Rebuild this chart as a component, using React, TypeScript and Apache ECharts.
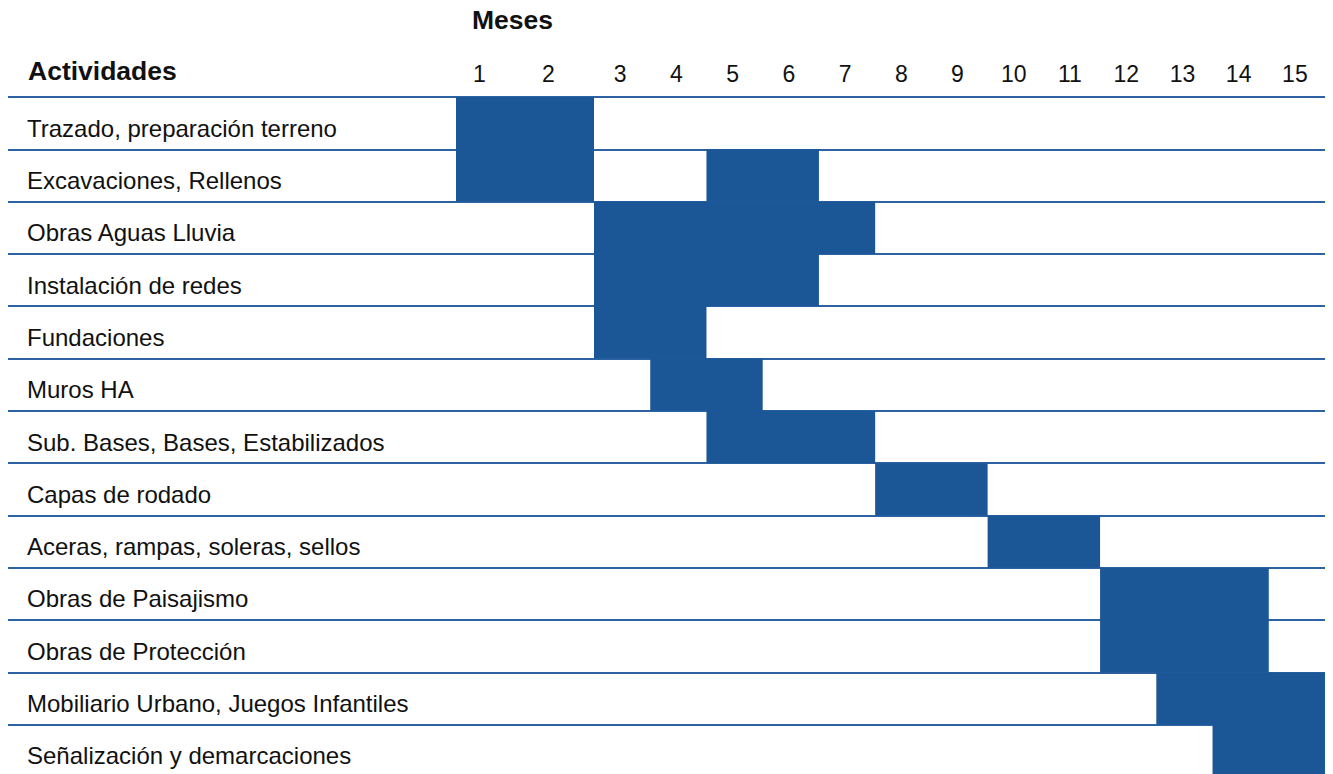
import React, { useEffect, useRef } from "react";
import * as echarts from "echarts";

const activities = [
  "Trazado, preparación terreno",
  "Excavaciones, Rellenos",
  "Obras Aguas Lluvia",
  "Instalación de redes",
  "Fundaciones",
  "Muros HA",
  "Sub. Bases, Bases, Estabilizados",
  "Capas de rodado",
  "Aceras, rampas, soleras, sellos",
  "Obras de Paisajismo",
  "Obras de Protección",
  "Mobiliario Urbano, Juegos Infantiles",
  "Señalización y demarcaciones",
];

const monthsEarly = ["1", "2"];
const monthsLate = ["3", "4", "5", "6", "7", "8", "9", "10", "11", "12", "13", "14", "15"];

// [first month, last month] per activity (one or more segments)
const schedule: number[][][] = [
  [[1, 2]],
  [[1, 2], [5, 6]],
  [[3, 7]],
  [[3, 6]],
  [[3, 4]],
  [[4, 5]],
  [[5, 7]],
  [[8, 9]],
  [[10, 11]],
  [[12, 14]],
  [[12, 14]],
  [[13, 15]],
  [[14, 15]],
];

const BAR = "#1b5697";
const LINE = "#2e63a3";
const FONT = "'Liberation Sans', Arial, sans-serif";

export default function App() {
  const ref = useRef<HTMLDivElement>(null);

  useEffect(() => {
    if (!ref.current) return;
    const chart = echarts.init(ref.current, undefined, { renderer: "svg" });

    const earlyData: number[][] = [];
    const lateData: number[][] = [];
    schedule.forEach((segs, row) => {
      segs.forEach(([s, e]) => {
        if (e <= monthsEarly.length) earlyData.push([row, s - 1, e - 1]);
        else lateData.push([row, s - 1 - monthsEarly.length, e - 1 - monthsEarly.length]);
      });
    });

    const renderItem = (params: any, api: any) => {
      const row = api.value(0);
      const s = api.value(1);
      const e = api.value(2);
      const p1 = api.coord([s, row]);
      const p2 = api.coord([e, row]);
      const size = api.size([1, 1]);
      return {
        type: "rect",
        shape: {
          x: p1[0] - size[0] / 2,
          y: p1[1] - size[1] / 2,
          width: p2[0] - p1[0] + size[0],
          height: size[1],
        },
        style: { fill: BAR },
      };
    };

    const top = 97;
    const height = 680;

    chart.setOption({
      animation: false,
      backgroundColor: "#ffffff",
      textStyle: { fontFamily: FONT },
      grid: [
        { left: 8, right: 8, top, height },
        { left: 456, width: 138, top, height },
        { left: 594, right: 8, top, height },
        { left: 8, right: 8, top: top + 5, height },
      ],
      xAxis: [
        { gridIndex: 0, type: "value", min: 0, max: 1, show: false },
        {
          gridIndex: 1,
          type: "category",
          data: monthsEarly,
          position: "top",
          axisLine: { show: false },
          axisTick: { show: false },
          splitLine: { show: false },
          axisLabel: {
            margin: 12,
            fontSize: 23,
            color: "#111",
            fontFamily: FONT,
            padding: [0, 22, 0, 0],
          },
        },
        {
          gridIndex: 2,
          type: "category",
          data: monthsLate,
          position: "top",
          axisLine: { show: false },
          axisTick: { show: false },
          splitLine: { show: false },
          axisLabel: {
            margin: 12,
            fontSize: 23,
            color: "#111",
            fontFamily: FONT,
            padding: [0, 4, 0, 0],
          },
        },
        { gridIndex: 3, type: "value", min: 0, max: 1, show: false },
      ],
      yAxis: [
        {
          gridIndex: 0,
          type: "category",
          data: activities,
          inverse: true,
          axisLine: { show: false },
          axisTick: { show: false },
          axisLabel: { show: false },
          splitLine: {
            show: true,
            interval: 0,
            lineStyle: { color: LINE, width: 2 },
          },
        },
        { gridIndex: 1, type: "category", data: activities, inverse: true, show: false },
        { gridIndex: 2, type: "category", data: activities, inverse: true, show: false },
        {
          gridIndex: 3,
          type: "category",
          data: activities,
          inverse: true,
          axisLine: { show: false },
          axisTick: { show: false },
          splitLine: { show: false },
          axisLabel: {
            inside: true,
            margin: 19,
            fontSize: 24,
            color: "#111",
            fontFamily: FONT,
            align: "left",
          },
        },
      ],
      graphic: [
        {
          type: "text",
          left: 28,
          top: 57,
          style: {
            text: "Actividades",
            font: `bold 26.5px ${FONT}`,
            fill: "#111",
          },
        },
        {
          type: "text",
          left: 472,
          top: 6,
          style: {
            text: "Meses",
            font: `bold 26.5px ${FONT}`,
            fill: "#111",
          },
        },
        {
          type: "line",
          shape: { x1: 456, y1: 44, x2: 1325, y2: 44 },
          style: {
            stroke: {
              type: "linear",
              x: 0,
              y: 0,
              x2: 1,
              y2: 0,
              colorStops: [
                { offset: 0, color: "#9fc7b0" },
                { offset: 0.05, color: "#8a8a8a" },
                { offset: 1, color: "#8a8a8a" },
              ],
            },
            lineWidth: 2,
          },
        },
      ],
      series: [
        {
          type: "custom",
          xAxisIndex: 1,
          yAxisIndex: 1,
          renderItem,
          encode: { x: [1, 2], y: 0 },
          data: earlyData,
          z: 5,
        },
        {
          type: "custom",
          xAxisIndex: 2,
          yAxisIndex: 2,
          renderItem,
          encode: { x: [1, 2], y: 0 },
          data: lateData,
          z: 5,
        },
      ],
    });

    return () => chart.dispose();
  }, []);

  return (
    <div
      ref={ref}
      style={{ position: "fixed", left: 0, top: 0, width: 1333, height: 800 }}
    />
  );
}
